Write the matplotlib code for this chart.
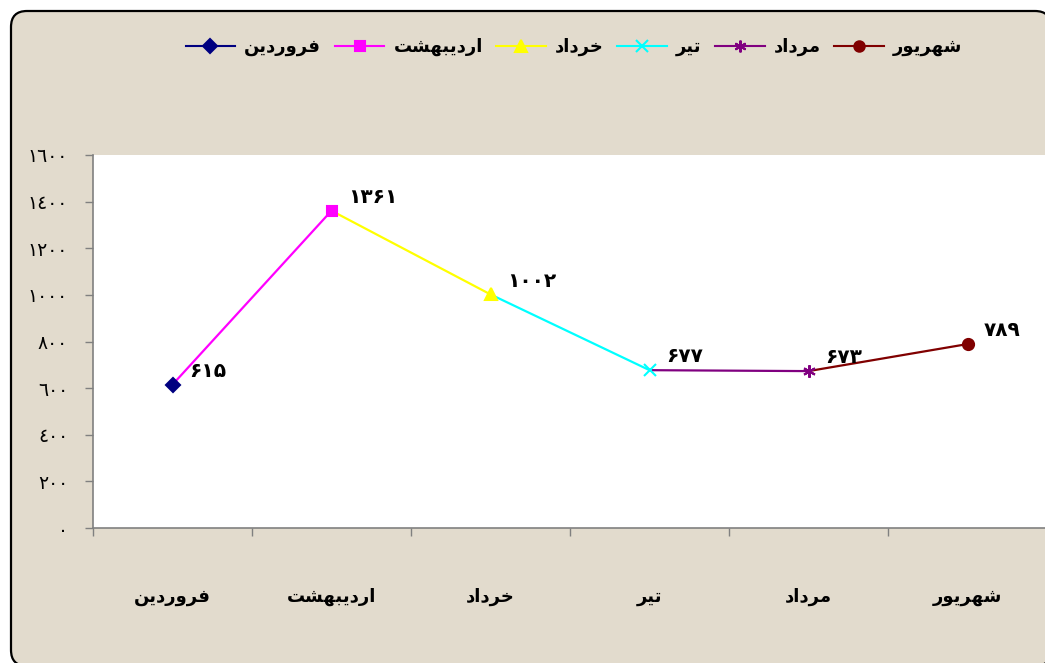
import matplotlib
matplotlib.use('Agg')
import matplotlib.pyplot as plt
from matplotlib.patches import FancyBboxPatch
from matplotlib.lines import Line2D
from matplotlib.transforms import Affine2D

plt.rcParams['font.family'] = ['DejaVu Sans']

# ---------------- data ----------------
months = ['فروردین', 'اردیبهشت', 'خرداد', 'تیر', 'مرداد', 'شهریور']
values = [615, 1361, 1002, 677, 673, 789]
value_labels = ['۶۱۵', '۱۳۶۱', '۱۰۰۲', '۶۷۷', '۶۷۳', '۷۸۹']
y_ticks = [0, 200, 400, 600, 800, 1000, 1200, 1400, 1600]
y_tick_labels = ['٠', '٢٠٠', '٤٠٠', '٦٠٠', '٨٠٠', '١٠٠٠', '١٢٠٠', '١٤٠٠', '١٦٠٠']
colors = ['#000080', '#FF00FF', '#FFFF00', '#00FFFF', '#800080', '#800000']
markers = ['D', 's', '^', 'x', (6, 2, 0), 'o']
marker_sizes = [7.5, 7.5, 9, 8.5, 9, 8]

# ---------------- Arabic-script shaping (presentation forms + RTL) ----------------
FORMS = {
    'ا': ('\uFE8D', '\uFE8E', None, None),
    'ب': ('\uFE8F', '\uFE90', '\uFE91', '\uFE92'),
    'ت': ('\uFE95', '\uFE96', '\uFE97', '\uFE98'),
    'خ': ('\uFEA5', '\uFEA6', '\uFEA7', '\uFEA8'),
    'د': ('\uFEA9', '\uFEAA', None, None),
    'ر': ('\uFEAD', '\uFEAE', None, None),
    'ش': ('\uFEB5', '\uFEB6', '\uFEB7', '\uFEB8'),
    'ف': ('\uFED1', '\uFED2', '\uFED3', '\uFED4'),
    'م': ('\uFEE1', '\uFEE2', '\uFEE3', '\uFEE4'),
    'ن': ('\uFEE5', '\uFEE6', '\uFEE7', '\uFEE8'),
    'ه': ('\uFEE9', '\uFEEA', '\uFEEB', '\uFEEC'),
    'و': ('\uFEED', '\uFEEE', None, None),
    'ی': ('\uFBFC', '\uFBFD', '\uFBFE', '\uFBFF'),
}


def shape(text):
    out = []
    n = len(text)
    for i, ch in enumerate(text):
        f = FORMS.get(ch)
        if f is None:
            out.append(ch)
            continue
        prev = text[i - 1] if i > 0 else None
        nxt = text[i + 1] if i < n - 1 else None
        jp = prev is not None and prev in FORMS and FORMS[prev][2] is not None
        jn = f[2] is not None and nxt is not None and nxt in FORMS
        if jp and jn:
            g = f[3]
        elif jp:
            g = f[1]
        elif jn:
            g = f[2]
        else:
            g = f[0]
        out.append(g)
    return ''.join(reversed(out))


W, H = 1045, 663
fig = plt.figure(figsize=(W / 100, H / 100), dpi=100, facecolor='white')
px = Affine2D().scale(1 / W, 1 / H) + fig.transFigure

bg = '#E2DBCD'
border = FancyBboxPatch((11, -3), 1040, 655,
                        boxstyle='round,pad=0,rounding_size=16',
                        transform=px, facecolor=bg, edgecolor='black',
                        linewidth=1.6, zorder=-10)
fig.patches.append(border)

ax = fig.add_axes([93 / W, 1 - 528 / H, (1047 - 93) / W, (528 - 155) / H],
                  facecolor='white', zorder=1)

x = list(range(len(months)))

# line segments, each coloured by the series that ends there
for i in range(1, len(values)):
    ax.plot(x[i - 1:i + 1], values[i - 1:i + 1], color=colors[i], lw=1.6,
            zorder=2, solid_capstyle='butt')
# markers and data labels
for i in range(len(values)):
    ax.plot([x[i]], [values[i]], linestyle='none', marker=markers[i],
            ms=marker_sizes[i], color=colors[i], mec=colors[i], mfc=colors[i],
            mew=1.5, zorder=3)
    ax.annotate(value_labels[i], xy=(x[i], values[i]), xytext=(12, 9.5),
                textcoords='offset points', ha='left', va='center',
                fontsize=14.5, fontweight='bold', color='black', zorder=4)

ax.set_xlim(-0.5, len(months) - 0.5)
ax.set_ylim(0, 1600)

ax.set_xticks([i - 0.5 for i in range(len(months) + 1)])
ax.set_xticklabels([])
ax.set_xticks(x, minor=True)
ax.set_xticklabels([shape(m) for m in months], minor=True,
                   fontsize=13, fontweight='bold')
ax.tick_params(axis='x', which='major', direction='out', length=5.5,
               color='#808080', width=1)
ax.tick_params(axis='x', which='minor', length=0, pad=43)

ax.set_yticks(y_ticks)
ax.set_yticklabels(y_tick_labels)
ax.tick_params(axis='y', direction='out', length=6, pad=12, labelsize=13.5,
               color='#808080', width=1)

for s in ['top', 'right']:
    ax.spines[s].set_visible(False)
for s in ['left', 'bottom']:
    ax.spines[s].set_color('#808080')
    ax.spines[s].set_linewidth(1.2)

handles = [Line2D([0], [0], color=colors[i], marker=markers[i],
                  ms=marker_sizes[i] - 0.5, mec=colors[i], mfc=colors[i],
                  mew=1.5, lw=1.5) for i in range(len(months))]
fig.legend(handles, [shape(m) for m in months], loc='center',
           bbox_to_anchor=(574 / W, 1 - 47 / H), ncol=6, frameon=False,
           handlelength=2.75, handletextpad=0.5, columnspacing=0.75,
           prop={'size': 13, 'weight': 'bold'})

fig.savefig('out.png', dpi=100, facecolor='white')
